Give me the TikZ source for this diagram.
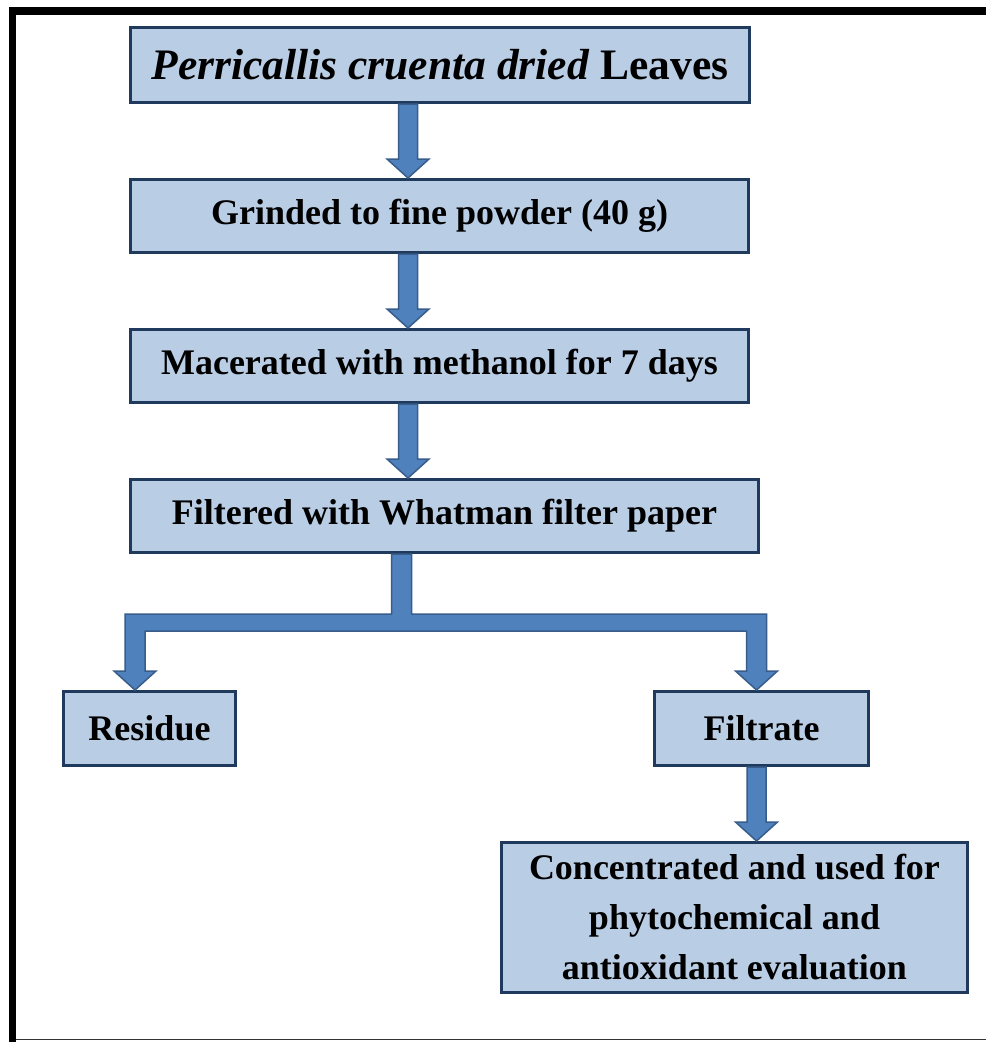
\documentclass[tikz,border=0pt]{standalone}
\usepackage{fontspec}
\setmainfont{Liberation Serif}
\usetikzlibrary{calc}
\definecolor{boxfill}{HTML}{B9CDE5}
\definecolor{boxline}{HTML}{1F3A5C}
\definecolor{arrfill}{HTML}{4F81BD}
\definecolor{arrline}{HTML}{385D8A}
\tikzset{
  stepbox/.style={draw=boxline, fill=boxfill, line width=3pt, rectangle, inner sep=0pt,
    font=\fontsize{36}{50}\selectfont\bfseries, align=center, text=black},
  barrow/.style={fill=arrfill, draw=arrline, line width=1.5pt, line join=miter}
}
\newcommand{\blockdown}[2]{%
  \path[barrow] let \p1=(#1), \p2=(#2) in
    (\x1-9.5pt,\y1) -- (\x1+9.5pt,\y1) -- (\x1+9.5pt,\y2+19pt) -- (\x1+21pt,\y2+19pt)
    -- (\x1,\y2) -- (\x1-21pt,\y2+19pt) -- (\x1-9.5pt,\y2+19pt) -- cycle;}
\begin{document}
\begin{tikzpicture}[x=1pt,y=-1pt]
\useasboundingbox (0,0) rectangle (986,1042);
\fill[white] (0,0) rectangle (986,1042);
% frame
\draw[line width=7.5pt] (12.5,1042) -- (12.5,11) -- (986,11);
\draw[line width=1.2pt, black!80] (16,1039.5) -- (986,1039.5);
% boxes
\node[stepbox, minimum width=619, minimum height=75, font=\fontsize{43.5}{50}\selectfont\bfseries] (b1) at (440,65) {\textit{Perricallis cruenta dried} Leaves};
\node[stepbox, minimum width=618, minimum height=73] (b2) at (439.5,216) {Grinded to fine powder (40 g)};
\node[stepbox, minimum width=618, minimum height=73] (b3) at (439.5,366) {Macerated with methanol for 7 days};
\node[stepbox, minimum width=628, minimum height=73] (b4) at (444.5,516) {Filtered with Whatman filter paper};
\node[stepbox, minimum width=172, minimum height=74] (res) at (149.5,728.5) {Residue};
\node[stepbox, minimum width=214, minimum height=74] (fil) at (761.5,728.5) {Filtrate};
\node[stepbox, minimum width=466, minimum height=150] (fin) at (734.5,917.5) {Concentrated and used for\\phytochemical and\\antioxidant evaluation};
% arrow axes
\coordinate (ax) at (408,0);
\coordinate (bx) at (401.5,0);
\coordinate (lx) at (135,0);
\coordinate (rx) at (756.5,0);
\blockdown{b1.south -| ax}{b2.north -| ax}
\blockdown{b2.south -| ax}{b3.north -| ax}
\blockdown{b3.south -| ax}{b4.north -| ax}
\blockdown{fil.south -| rx}{fin.north -| rx}
% branch
\path[barrow] let \p1=(b4.south -| bx), \p2=(res.north -| lx), \p3=(fil.north -| rx) in
  (\x1-10pt,\y1) -- (\x1+10pt,\y1) -- (\x1+10pt,\y1-60pt) -- (\x3+10pt,\y1-60pt)
  -- (\x3+10pt,\y3+19pt) -- (\x3+21pt,\y3+19pt) -- (\x3,\y3) -- (\x3-21pt,\y3+19pt) -- (\x3-10pt,\y3+19pt)
  -- (\x3-10pt,\y1-77pt) -- (\x2+10pt,\y1-77pt)
  -- (\x2+10pt,\y2+19pt) -- (\x2+21pt,\y2+19pt) -- (\x2,\y2) -- (\x2-21pt,\y2+19pt) -- (\x2-10pt,\y2+19pt)
  -- (\x2-10pt,\y1-60pt) -- (\x1-10pt,\y1-60pt) -- cycle;
\end{tikzpicture}
\end{document}
